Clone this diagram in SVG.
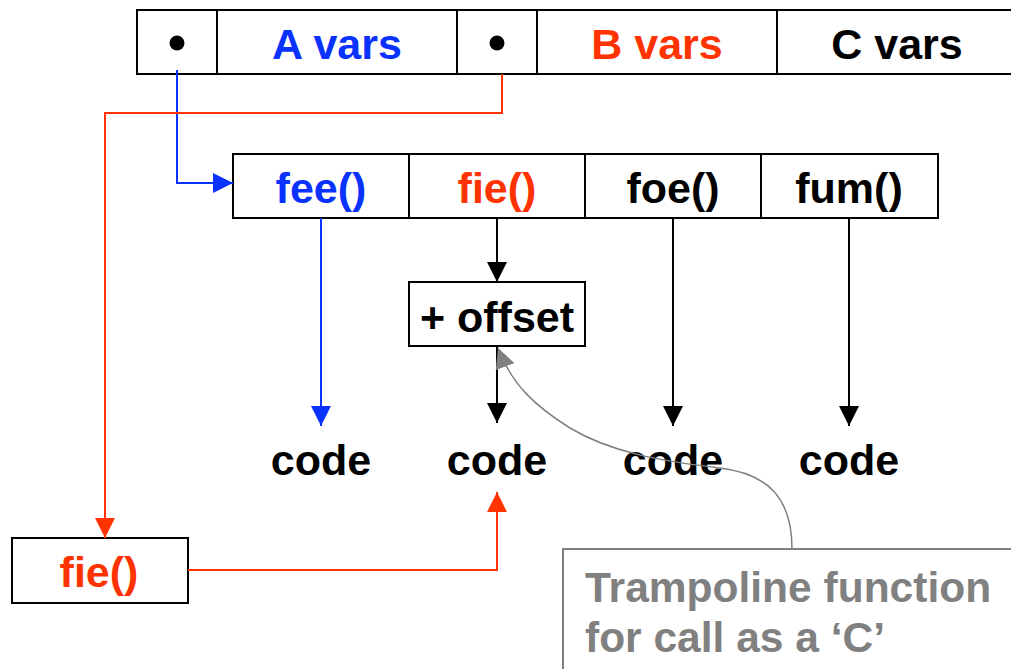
<svg xmlns="http://www.w3.org/2000/svg" width="1011" height="669" viewBox="0 0 1011 669">
<style>
.box{fill:#fff;stroke:#000;stroke-width:2}
.t{font-family:"Liberation Sans",Arial,sans-serif;font-weight:bold;font-size:43px;text-anchor:middle}
.blue{fill:#0a32ff}
.red{fill:#ff3300}
.blk{fill:#000}
.gray{fill:#808080}
.cb{stroke:#0a32ff;stroke-width:2;fill:none}
.cr{stroke:#ff3300;stroke-width:2;fill:none}
.ck{stroke:#000;stroke-width:2;fill:none}
.cg{stroke:#808080;stroke-width:1.5;fill:none}
</style>
<defs>
<marker id="ab" viewBox="0 0 20 20" refX="20" refY="10" markerWidth="20" markerHeight="20" markerUnits="userSpaceOnUse" orient="auto"><path d="M0,0 L20,10 L0,20 Z" fill="#0a32ff"/></marker>
<marker id="ar" viewBox="0 0 20 20" refX="20" refY="10" markerWidth="20" markerHeight="20" markerUnits="userSpaceOnUse" orient="auto"><path d="M0,0 L20,10 L0,20 Z" fill="#ff3300"/></marker>
<marker id="ak" viewBox="0 0 20 20" refX="20" refY="10" markerWidth="20" markerHeight="20" markerUnits="userSpaceOnUse" orient="auto"><path d="M0,0 L20,10 L0,20 Z" fill="#000"/></marker>
<marker id="ag" viewBox="0 0 20 20" refX="20" refY="10" markerWidth="20" markerHeight="20" markerUnits="userSpaceOnUse" orient="auto"><path d="M0,0 L20,10 L0,20 Z" fill="#808080"/></marker>
</defs>
<rect width="1011" height="669" fill="#fff"/>

<g id="vars">
<rect class="box" x="137" y="10" width="880" height="64"/>
<line x1="217" y1="10" x2="217" y2="74" stroke="#000" stroke-width="2"/>
<line x1="457" y1="10" x2="457" y2="74" stroke="#000" stroke-width="2"/>
<line x1="537" y1="10" x2="537" y2="74" stroke="#000" stroke-width="2"/>
<line x1="777" y1="10" x2="777" y2="74" stroke="#000" stroke-width="2"/>
<circle cx="177" cy="43" r="7.5" fill="#000"/>
<circle cx="497" cy="43" r="7.5" fill="#000"/>
<text class="t blue" x="337" y="59">A vars</text>
<text class="t red" x="657" y="59">B vars</text>
<text class="t blk" x="897" y="59">C vars</text>
</g>

<g id="vtable">
<rect class="box" x="233" y="154" width="705" height="64"/>
<line x1="409" y1="154" x2="409" y2="218" stroke="#000" stroke-width="2"/>
<line x1="585" y1="154" x2="585" y2="218" stroke="#000" stroke-width="2"/>
<line x1="761" y1="154" x2="761" y2="218" stroke="#000" stroke-width="2"/>
<text class="t blue" x="321" y="203">fee()</text>
<text class="t red" x="497" y="203">fie()</text>
<text class="t blk" x="673" y="203">foe()</text>
<text class="t blk" x="849" y="203">fum()</text>
</g>

<g id="offset">
<rect class="box" x="409" y="282" width="176" height="64"/>
<text class="t blk" x="497" y="332">+ offset</text>
</g>

<g id="codes">
<text class="t blk" x="321" y="475">code</text>
<text class="t blk" x="497" y="475">code</text>
<text class="t blk" x="673" y="475">code</text>
<text class="t blk" x="849" y="475">code</text>
</g>

<g id="fie2">
<rect class="box" x="12" y="538" width="176" height="65"/>
<text class="t red" x="99" y="587">fie()</text>
</g>

<g id="trampoline">
<rect x="563" y="549" width="470" height="140" fill="#fff" stroke="#808080" stroke-width="2"/>
<text x="585" y="602" font-family="Liberation Sans,Arial,sans-serif" font-weight="bold" font-size="42.5" class="gray">Trampoline function</text>
<text x="585" y="652" font-family="Liberation Sans,Arial,sans-serif" font-weight="bold" font-size="42.5" class="gray">for call as a ‘C’</text>
</g>

<g id="connectors">
<path class="cb" d="M177,70 V183 H233" marker-end="url(#ab)"/>
<path class="cr" d="M502,74 V113 H105 V538" marker-end="url(#ar)"/>
<path class="cb" d="M321,218 V426" marker-end="url(#ab)"/>
<path class="ck" d="M497,218 V282" marker-end="url(#ak)"/>
<path class="ck" d="M673,218 V426" marker-end="url(#ak)"/>
<path class="ck" d="M849,218 V426" marker-end="url(#ak)"/>
<path class="ck" d="M497,346 V423" marker-end="url(#ak)"/>
<path class="cr" d="M188,570 H497 V492" marker-end="url(#ar)"/>
<path class="cg" d="M792,549 C792,500 770,474 720,468 C660,461 610,452 570,428 C535,406 512,385 498,348" marker-end="url(#ag)"/>
</g>
</svg>
